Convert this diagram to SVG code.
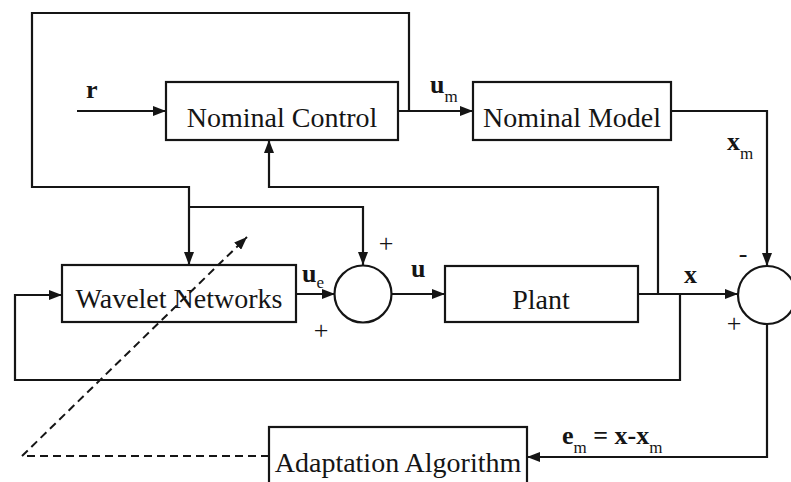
<svg xmlns="http://www.w3.org/2000/svg" width="791" height="482" viewBox="0 0 791 482">
<style>
.box{fill:none;stroke:#151515;stroke-width:2.2}
.ln{fill:none;stroke:#151515;stroke-width:2.2}
.dash{fill:none;stroke:#151515;stroke-width:2;stroke-dasharray:8 5}
.t{font-family:"Liberation Serif","Times New Roman",serif;font-size:28px;fill:#151515}
.lb{font-family:"Liberation Serif","Times New Roman",serif;font-size:26px;font-weight:bold;fill:#151515}
.sub{font-family:"Liberation Serif","Times New Roman",serif;font-size:17px;fill:#151515}
.sg{font-family:"Liberation Serif","Times New Roman",serif;font-size:26px;fill:#151515}
</style>
<defs>
<marker id="ah" markerWidth="14" markerHeight="10" refX="13" refY="5" orient="auto" markerUnits="userSpaceOnUse">
<path d="M0,0 L13,5 L0,10 Z" fill="#151515"/>
</marker>
</defs>
<rect width="791" height="482" fill="#ffffff"/>
<g id="connectors">
<path class="ln" d="M77,111 H166" marker-end="url(#ah)"/>
<path class="ln" d="M398,111 H473" marker-end="url(#ah)"/>
<path class="ln" d="M409,111 V13 H32 V187 H189 V265" marker-end="url(#ah)"/>
<path class="ln" d="M189,207 H363 V265" marker-end="url(#ah)"/>
<path class="ln" d="M658,294 V187 H269 V140" marker-end="url(#ah)"/>
<path class="ln" d="M671,111 H767 V266" marker-end="url(#ah)"/>
<path class="ln" d="M296,294 H335" marker-end="url(#ah)"/>
<path class="ln" d="M392,294 H445" marker-end="url(#ah)"/>
<path class="ln" d="M638,294 H738" marker-end="url(#ah)"/>
<path class="ln" d="M680,294 V380 H15 V295 H62" marker-end="url(#ah)"/>
<path class="ln" d="M767,324 V457 H527" marker-end="url(#ah)"/>
<path class="dash" d="M269,456 H22 L247,237" marker-end="url(#ah)"/>
</g>
<g id="nominal-control">
<rect class="box" x="166" y="82" width="232" height="58"/>
<text class="t" x="282" y="127" text-anchor="middle">Nominal Control</text>
</g>
<g id="nominal-model">
<rect class="box" x="473" y="82" width="198" height="58"/>
<text class="t" x="572" y="127" text-anchor="middle">Nominal Model</text>
</g>
<g id="wavelet-networks">
<rect class="box" x="62" y="265" width="234" height="57"/>
<text class="t" x="179" y="308" text-anchor="middle">Wavelet Networks</text>
</g>
<g id="sum1">
<circle class="box" cx="363" cy="294" r="28.5"/>
</g>
<g id="plant">
<rect class="box" x="445" y="266" width="193" height="56"/>
<text class="t" x="541" y="309" text-anchor="middle">Plant</text>
</g>
<g id="sum2">
<circle class="box" cx="767" cy="295" r="29"/>
</g>
<g id="adaptation-algorithm">
<rect class="box" x="269" y="427" width="258" height="70"/>
<text class="t" x="398" y="472" text-anchor="middle">Adaptation Algorithm</text>
</g>
<g id="labels">
<text class="lb" x="86" y="98">r</text>
<text class="lb" x="430" y="93">u<tspan class="sub" font-weight="normal" dy="9">m</tspan></text>
<text class="lb" x="727" y="150">x<tspan class="sub" font-weight="normal" dy="9">m</tspan></text>
<text class="lb" x="302" y="282">u<tspan class="sub" font-weight="normal" dy="6">e</tspan></text>
<text class="lb" x="411" y="277">u</text>
<text class="lb" x="684" y="283">x</text>
<text class="lb" x="562" y="444">e<tspan class="sub" font-weight="normal" dy="9">m</tspan><tspan dy="-9"> = x-x</tspan><tspan class="sub" font-weight="normal" dy="9">m</tspan></text>
<text class="sg" x="386" y="252" text-anchor="middle">+</text>
<text class="sg" x="321" y="339" text-anchor="middle">+</text>
<text class="sg" x="743" y="262" text-anchor="middle">-</text>
<text class="sg" x="734" y="332" text-anchor="middle">+</text>
</g>
</svg>
